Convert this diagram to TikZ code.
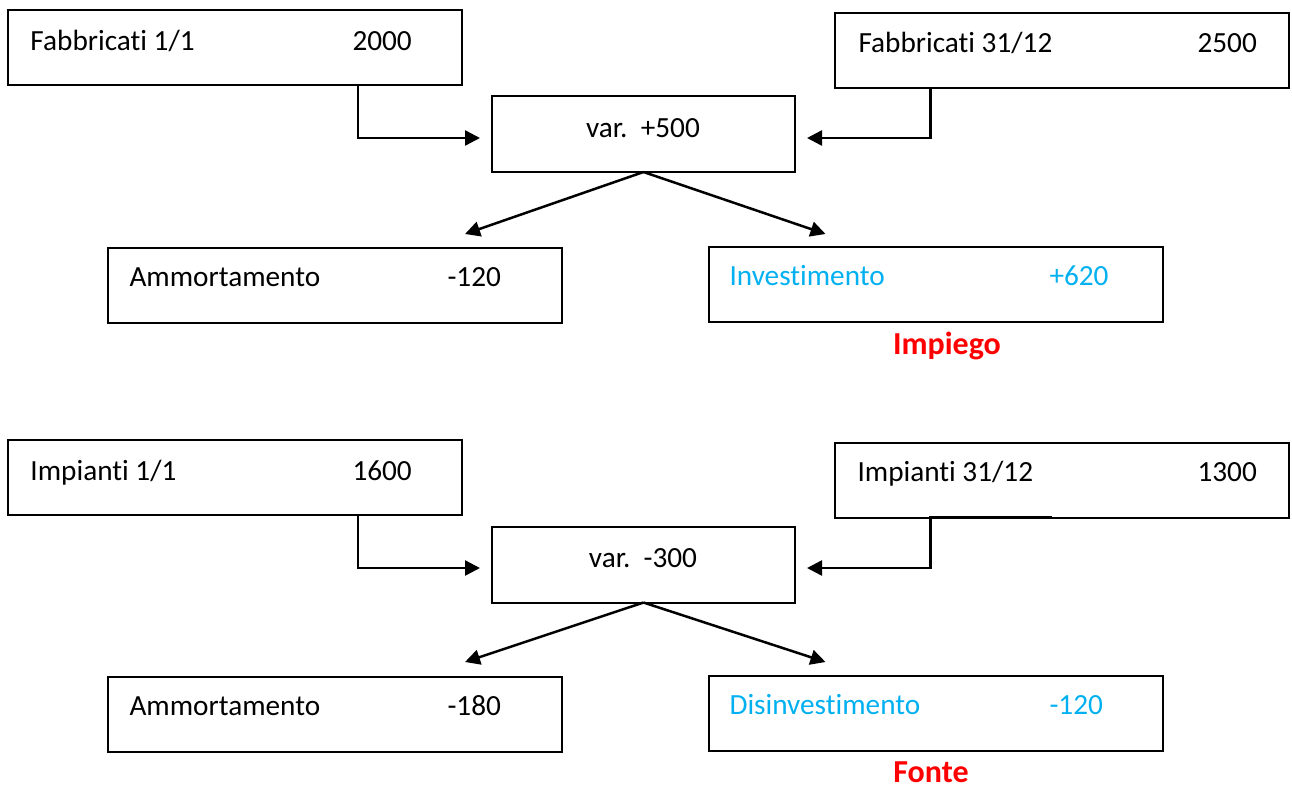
\documentclass[tikz,border=0pt]{standalone}
\usepackage{fontspec}
\setmainfont{Carlito}[Ligatures=NoCommon]
\usepackage{xcolor}
\usepackage{tikz}
\usetikzlibrary{arrows.meta, positioning, calc}

\definecolor{wordblue}{HTML}{00B0F0}
\definecolor{wordred}{HTML}{FF0000}

\begin{document}
\begin{tikzpicture}[
    x=0.4pt, y=-0.4pt,
    account/.style={rectangle, draw=black, line width=0.8pt, inner sep=0pt, outer sep=0pt, minimum width=181.6pt, minimum height=30pt},
    varbox/.style={rectangle, draw=black, line width=0.8pt, inner sep=0pt, outer sep=0pt, minimum width=121.2pt, minimum height=30.4pt},
    txt/.style={anchor=base west, inner sep=0pt, font=\fontsize{11.7}{14}\selectfont},
    vartxt/.style={anchor=base, inner sep=0pt, font=\fontsize{11.7}{14}\selectfont},
    flow/.style={txt, text=wordblue},
    verdict/.style={anchor=base, inner sep=0pt, text=wordred, font=\fontsize{12.8}{15}\selectfont\bfseries},
    conn/.style={-{Triangle[length=6pt, width=6pt]}, line width=1pt}
]
\useasboundingbox (0,0) rectangle (1292,787);

% Fabbricati
\node[account] (fab1) at (235, 47.5) {};
\node[account] (fab31) at (1061.5, 50.5) {};
\node[varbox] (var1) at (643.5, 134) {};
\node[account] (amm1) at (335, 285.5) {};
\node[account] (inv) at (935.5, 284.5) {};

\node[txt] (fab1l) at (30, 50) {Fabbricati 1/1};
\node[txt] (fab1v) at (352, 50) {2000};
\node[txt] (fab31l) at (858, 52) {Fabbricati 31/12};
\node[txt] (fab31v) at (1197, 52) {2500};
\node[vartxt] (var1t) at (643, 137) {var.\ \ +500};
\node[txt] (amm1l) at (129, 286) {Ammortamento};
\node[txt] (amm1v) at (447, 286) {-120};
\node[flow] (invl) at (729, 285) {Investimento};
\node[flow] (invv) at (1049, 285) {+620};
\node[verdict] (impiego) at (947, 354) {Impiego};

% Impianti
\node[account] (imp1) at (235, 477.5) {};
\node[account] (imp31) at (1061.5, 480) {};
\node[varbox] (var2) at (643.5, 564.5) {};
\node[account] (amm2) at (335, 714.5) {};
\node[account] (dis) at (935.5, 713.5) {};

\node[txt] (imp1l) at (30, 480) {Impianti 1/1};
\node[txt] (imp1v) at (352, 480) {1600};
\node[txt] (imp31l) at (857, 481) {Impianti 31/12};
\node[txt] (imp31v) at (1197, 481) {1300};
\node[vartxt] (var2t) at (643, 567) {var.\ \ -300};
\node[txt] (amm2l) at (129, 715) {Ammortamento};
\node[txt] (amm2v) at (447, 715) {-180};
\node[flow] (disl) at (729, 714) {Disinvestimento};
\node[flow] (disv) at (1049, 714) {-120};
\node[verdict] (fonte) at (931, 782) {Fonte};

% Connections
\draw[conn] (fab1.south) -- ++(123,0) |- ([shift={(-12,4)}]var1.west);
\draw[conn] ([shift={(-10,0)}]fab31.south) -- ++(-121,0) |- ([shift={(12,4)}]var1.east);
\draw[conn] (var1.south) -- ([shift={(130,-14)}]amm1.north);
\draw[conn] (var1.south) -- ([shift={(-110,-13)}]inv.north);

\draw[conn] (imp1.south) -- ++(123,0) |- ([shift={(-12,3.5)}]var2.west);
\draw[conn] ([shift={(-10,0)}]imp31.south) -- ++(-121,0) |- ([shift={(12,3.5)}]var2.east);
\draw[conn] (var2.south) -- ([shift={(130,-15)}]amm2.north);
\draw[conn] (var2.south) -- ([shift={(-110,-14)}]dis.north);

\end{tikzpicture}
\end{document}
